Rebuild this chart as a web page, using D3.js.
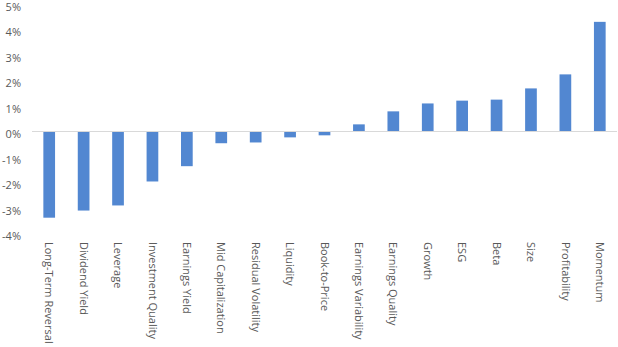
<!DOCTYPE html>
<html><head><meta charset="utf-8">
<script src="https://cdn.jsdelivr.net/npm/d3@7"></script>
<style>html,body{margin:0;padding:0;background:#fff;}svg{display:block;}</style>
</head><body>
<svg id="chart" width="618" height="347"></svg>
<script>
const categories = ["Long-Term Reversal","Dividend Yield","Leverage","Investment Quality","Earnings Yield","Mid Capitalization","Residual Volatility","Liquidity","Book-to-Price","Earnings Variability","Earnings Quality","Growth","ESG","Beta","Size","Profitability","Momentum"];
const values = [-3.38,-3.10,-2.90,-1.96,-1.36,-0.46,-0.43,-0.23,-0.15,0.28,0.79,1.10,1.21,1.25,1.69,2.24,4.30];
const yTicks = [5,4,3,2,1,0,-1,-2,-3,-4];

const svg = d3.select("#chart");
const font = "'Open Sans', 'Noto Sans', sans-serif";
const x = d3.scaleBand().domain(categories).range([32, 617]).paddingInner(0.66).paddingOuter(0.33);
const y = d3.scaleLinear().domain([-4, 5]).range([233.5, 4]);

// bars
svg.append("g").selectAll("rect").data(categories).join("rect")
  .attr("x", d => x(d))
  .attr("width", x.bandwidth())
  .attr("y", (d,i) => y(Math.max(0, values[i])))
  .attr("height", (d,i) => Math.abs(y(values[i]) - y(0)))
  .attr("fill", "#5287d1");

// baseline
svg.append("line").attr("x1", 32).attr("x2", 617).attr("y1", y(0)).attr("y2", y(0))
  .attr("stroke", "#d9d9d9").attr("stroke-width", 1);

// y axis
const yAxis = d3.axisLeft(y).tickValues(yTicks).tickFormat(d => d + "%").tickSize(0).tickPadding(0);
const yg = svg.append("g").attr("transform", "translate(21,2.5)").call(yAxis);
yg.select(".domain").remove();
yg.selectAll("text").attr("fill", "#595959").style("font-family", font).style("font-size", "11px");

// x axis labels rotated
const xAxis = d3.axisBottom(x).tickSize(0).tickPadding(0);
const xg = svg.append("g").attr("transform", "translate(0,240)").call(xAxis);
xg.select(".domain").remove();
xg.selectAll("text")
  .attr("fill", "#595959").style("font-family", font).style("font-size", "11px")
  .attr("text-anchor", "start")
  .attr("transform", "rotate(90)")
  .attr("x", 2).attr("y", 0).attr("dy", "0.35em");
</script>
</body></html>
